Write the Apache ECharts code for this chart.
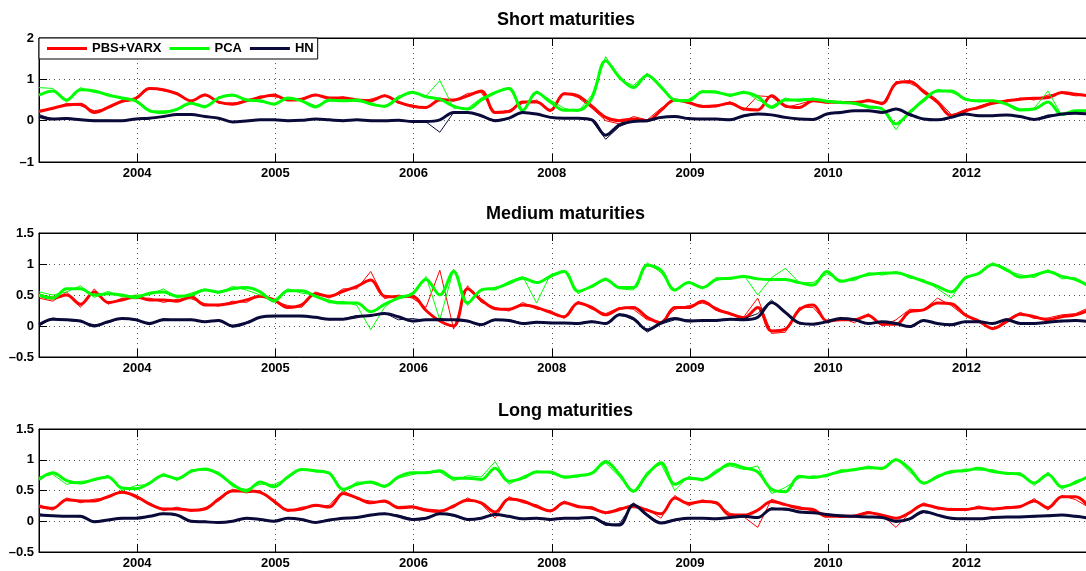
<!DOCTYPE html>
<html>
<head>
<meta charset="utf-8">
<title>Short, medium and long maturities</title>
<script src="https://cdn.jsdelivr.net/npm/echarts@6/dist/echarts.min.js"></script>
<style>
  html, body { margin: 0; padding: 0; background: #fff; }
  #chart { width: 1086px; height: 571px; }
</style>
</head>
<body>
<div id="chart"></div>
<script>
// one point every 10 observations, x axis runs on observation number
const obsStep = 10;
const obsMax = 764;
const tickObs = [71, 171, 271, 371, 471, 571, 671];
const tickLabels = ['2004', '2005', '2006', '2008', '2009', '2010', '2012'];
const seriesNames = ['PBS+VARX', 'PCA', 'HN'];

// short maturities, thick = smoothed, raw = thin line
const shortPbs = [0.22,0.3,0.38,0.4,0.2,0.32,0.47,0.54,0.78,0.75,0.65,0.48,0.62,0.45,0.4,0.48,0.56,0.62,0.5,0.52,0.62,0.55,0.55,0.5,0.48,0.6,0.45,
  0.35,0.32,0.5,0.5,0.6,0.72,0.2,0.22,0.45,0.45,0.25,0.65,0.6,0.35,0.08,0.0,0.04,0.0,0.25,0.5,0.44,0.34,0.36,0.42,0.28,0.26,0.6,
  0.36,0.32,0.48,0.45,0.44,0.44,0.48,0.42,0.9,0.95,0.7,0.45,0.12,0.24,0.32,0.42,0.48,0.52,0.54,0.56,0.68,0.64,0.6];
const shortPca = [0.62,0.72,0.5,0.75,0.72,0.62,0.55,0.48,0.24,0.2,0.28,0.42,0.34,0.55,0.62,0.5,0.48,0.4,0.55,0.48,0.33,0.5,0.48,0.5,0.4,0.35,0.55,
  0.69,0.58,0.52,0.35,0.28,0.5,0.68,0.78,0.25,0.68,0.45,0.25,0.25,0.55,1.45,1.05,0.8,1.1,0.82,0.5,0.48,0.7,0.69,0.62,0.68,0.58,0.32,
  0.5,0.5,0.52,0.47,0.44,0.42,0.34,0.28,-0.08,0.2,0.5,0.72,0.72,0.52,0.48,0.48,0.4,0.26,0.28,0.45,0.15,0.24,0.24];
const shortHn = [0.1,0.04,0.05,0.02,0.0,0.0,0.0,0.04,0.06,0.1,0.15,0.15,0.1,0.06,-0.03,-0.01,0.02,0.02,0.0,0.01,0.04,0.02,0.0,0.02,0.0,0.0,0.01,
  -0.02,-0.02,0.02,0.2,0.2,0.12,0.0,0.06,0.2,0.16,0.08,0.06,0.06,0.02,-0.35,-0.1,-0.02,0.0,0.08,0.1,0.05,0.04,0.04,0.02,0.12,0.16,0.14,
  0.08,0.04,0.03,0.16,0.2,0.24,0.24,0.2,0.28,0.15,0.04,0.02,0.08,0.16,0.12,0.12,0.14,0.1,0.03,0.1,0.16,0.18,0.16];
const shortPbsRaw = [0.25,0.28,0.42,0.36,0.24,0.3,0.45,0.5,0.8,0.72,0.68,0.45,0.65,0.42,0.43,0.46,0.6,0.58,0.52,0.5,0.64,0.52,0.58,0.47,0.52,0.62,0.42,
  0.38,0.3,0.55,0.47,0.66,0.68,0.18,0.25,0.42,0.5,0.22,0.68,0.56,0.3,0.0,-0.08,0.1,0.02,0.3,0.52,0.42,0.37,0.33,0.46,0.25,0.6,0.58,
  0.32,0.4,0.5,0.42,0.47,0.4,0.52,0.38,0.95,0.9,0.75,0.5,0.15,0.2,0.35,0.46,0.45,0.55,0.5,0.62,0.66,0.6,0.62];
const shortPcaRaw = [0.8,0.78,0.45,0.8,0.68,0.65,0.52,0.5,0.22,0.24,0.25,0.45,0.3,0.58,0.6,0.53,0.45,0.42,0.52,0.5,0.36,0.47,0.5,0.46,0.44,0.32,0.6,
  0.66,0.6,0.97,0.3,0.3,0.55,0.7,0.8,0.25,0.72,0.5,0.3,0.22,0.62,1.55,1.0,0.85,1.15,0.78,0.46,0.52,0.72,0.72,0.58,0.72,0.5,0.35,
  0.55,0.46,0.55,0.44,0.47,0.4,0.3,0.3,-0.22,0.25,0.45,0.76,0.68,0.55,0.45,0.5,0.42,0.28,0.3,0.72,0.12,0.22,0.26];
const shortHnRaw = [0.15,0.03,0.07,0.03,0.01,0.01,-0.01,0.05,0.05,0.11,0.14,0.16,0.09,0.07,-0.04,0.0,0.01,0.03,-0.01,0.02,0.03,0.03,0.01,0.01,0.01,-0.01,0.02,
  -0.02,-0.03,-0.28,0.2,0.21,0.1,0.02,0.05,0.21,0.15,0.09,0.05,0.07,0.0,-0.45,-0.14,-0.01,0.01,0.06,0.11,0.06,0.03,0.05,0.03,0.1,0.17,0.13,
  0.07,0.05,0.02,0.15,0.22,0.23,0.25,0.19,0.3,0.12,0.05,0.01,0.09,0.15,0.13,0.11,0.15,0.09,0.02,0.14,0.15,0.19,0.15];

// medium maturities
const mediumPbs = [0.5,0.45,0.5,0.35,0.55,0.38,0.42,0.47,0.42,0.42,0.4,0.47,0.34,0.34,0.37,0.42,0.48,0.42,0.3,0.34,0.52,0.48,0.56,0.64,0.74,0.48,0.47,
  0.48,0.25,0.08,0.0,0.6,0.42,0.28,0.27,0.34,0.3,0.22,0.15,0.37,0.3,0.18,0.28,0.3,0.14,0.05,0.3,0.3,0.4,0.27,0.2,0.13,0.3,-0.08,
  -0.05,0.26,0.34,0.08,0.1,0.1,0.17,0.03,0.03,0.23,0.26,0.37,0.36,0.18,0.08,-0.04,0.07,0.19,0.15,0.1,0.15,0.18,0.26];
const mediumPca = [0.5,0.45,0.6,0.6,0.5,0.52,0.5,0.46,0.53,0.55,0.48,0.5,0.58,0.55,0.6,0.62,0.55,0.4,0.57,0.57,0.48,0.4,0.37,0.37,0.23,0.35,0.45,
  0.52,0.75,0.5,0.88,0.37,0.58,0.61,0.69,0.77,0.7,0.8,0.88,0.56,0.64,0.75,0.62,0.62,0.98,0.9,0.58,0.7,0.62,0.75,0.77,0.8,0.76,0.75,
  0.75,0.7,0.66,0.88,0.72,0.77,0.83,0.85,0.86,0.8,0.72,0.64,0.55,0.77,0.85,0.99,0.91,0.79,0.82,0.88,0.8,0.75,0.64];
const mediumHn = [0.02,0.11,0.1,0.08,0.0,0.07,0.12,0.1,0.04,0.1,0.1,0.1,0.07,0.09,0.0,0.05,0.14,0.16,0.16,0.16,0.14,0.11,0.11,0.15,0.17,0.2,0.15,
  0.08,0.1,0.1,0.1,0.08,0.02,0.1,0.09,0.04,0.06,0.05,0.05,0.04,0.07,0.04,0.18,0.12,-0.06,0.05,0.12,0.08,0.09,0.09,0.11,0.1,0.14,0.38,
  0.22,0.05,0.03,0.07,0.12,0.1,0.04,0.07,0.04,-0.01,0.09,0.04,0.02,0.07,0.07,0.04,0.1,0.04,0.04,0.06,0.08,0.09,0.07];
const mediumPbsRaw = [0.45,0.4,0.55,0.3,0.6,0.35,0.45,0.44,0.45,0.38,0.43,0.44,0.36,0.32,0.4,0.38,0.5,0.4,0.33,0.3,0.55,0.45,0.6,0.6,0.88,0.44,0.5,
  0.45,0.3,0.9,-0.05,0.65,0.38,0.3,0.24,0.38,0.27,0.25,0.12,0.4,0.27,0.2,0.3,0.27,0.1,0.07,0.27,0.33,0.37,0.3,0.18,0.15,0.45,-0.12,
  -0.1,0.3,0.3,0.05,0.14,0.05,0.2,0.0,0.1,0.27,0.26,0.45,0.33,0.16,0.06,-0.06,0.1,0.22,0.12,0.13,0.18,0.2,0.3];
const mediumPcaRaw = [0.55,0.5,0.55,0.65,0.46,0.56,0.47,0.5,0.5,0.6,0.45,0.53,0.6,0.52,0.64,0.58,0.5,0.42,0.6,0.53,0.5,0.37,0.4,0.33,-0.06,0.3,0.48,
  0.5,0.8,0.1,0.92,0.33,0.6,0.58,0.72,0.8,0.37,0.83,0.9,0.52,0.66,0.78,0.6,0.58,1.02,0.86,0.56,0.72,0.6,0.78,0.75,0.82,0.5,0.78,
  0.93,0.7,0.7,0.84,0.74,0.73,0.86,0.82,0.88,0.77,0.75,0.6,0.45,0.8,0.84,1.02,0.88,0.83,0.78,0.91,0.76,0.78,0.6];
const mediumHnRaw = [0.0,0.13,0.09,0.07,0.02,0.05,0.13,0.09,0.02,0.12,0.09,0.11,0.06,0.1,-0.02,0.06,0.15,0.15,0.17,0.15,0.15,0.1,0.12,0.17,0.16,0.21,0.1,
  0.12,0.09,0.12,0.09,0.07,0.03,0.09,0.1,0.05,0.05,0.06,0.04,0.05,0.08,0.03,0.2,0.1,-0.1,0.03,0.1,0.1,0.07,0.1,0.1,0.12,0.2,0.42,
  0.2,0.03,0.04,0.06,0.13,0.09,0.05,0.06,0.03,-0.02,0.1,0.03,0.03,0.06,0.08,0.03,0.12,0.05,0.03,0.07,0.07,0.1,0.06];

// long maturities
const longPbs = [0.24,0.21,0.35,0.33,0.33,0.4,0.47,0.41,0.28,0.2,0.2,0.18,0.2,0.36,0.49,0.49,0.47,0.33,0.18,0.2,0.26,0.23,0.45,0.38,0.3,0.33,0.22,
  0.23,0.18,0.16,0.25,0.34,0.3,0.15,0.36,0.33,0.24,0.17,0.3,0.24,0.21,0.14,0.19,0.25,0.18,0.12,0.38,0.29,0.32,0.3,0.1,0.1,0.18,0.32,
  0.27,0.21,0.19,0.08,0.08,0.08,0.14,0.1,0.05,0.14,0.27,0.22,0.19,0.19,0.22,0.2,0.22,0.24,0.33,0.22,0.4,0.4,0.22];
const longPca = [0.68,0.79,0.66,0.62,0.68,0.72,0.54,0.53,0.62,0.75,0.69,0.81,0.85,0.77,0.6,0.49,0.64,0.56,0.72,0.84,0.82,0.78,0.52,0.6,0.64,0.57,0.72,
  0.79,0.79,0.82,0.7,0.7,0.68,0.86,0.65,0.7,0.8,0.8,0.72,0.74,0.78,0.97,0.76,0.49,0.76,0.95,0.6,0.7,0.68,0.8,0.93,0.87,0.8,0.52,
  0.48,0.73,0.71,0.75,0.81,0.84,0.87,0.86,1.0,0.85,0.62,0.72,0.81,0.82,0.86,0.81,0.78,0.76,0.62,0.76,0.56,0.63,0.74];
const longHn = [0.1,0.09,0.08,0.08,-0.01,0.02,0.05,0.05,0.08,0.12,0.1,0.0,-0.01,-0.02,0.0,0.05,0.03,0.0,0.05,0.03,-0.02,0.02,0.05,0.06,0.1,0.12,0.08,
  0.03,0.05,0.12,0.1,0.03,0.05,0.11,0.08,0.04,0.05,0.03,0.05,0.05,0.06,-0.04,-0.06,0.27,0.1,-0.03,0.02,0.05,0.05,0.04,0.06,0.08,0.06,0.2,
  0.2,0.15,0.14,0.11,0.09,0.08,0.07,0.06,0.0,0.04,0.16,0.1,0.05,0.04,0.04,0.06,0.07,0.07,0.08,0.09,0.1,0.08,0.05];
const longPbsRaw = [0.27,0.18,0.38,0.3,0.36,0.38,0.5,0.38,0.3,0.17,0.23,0.16,0.22,0.33,0.52,0.46,0.5,0.3,0.16,0.23,0.24,0.26,0.5,0.36,0.33,0.31,0.24,
  0.25,0.2,0.18,0.22,0.38,0.28,0.05,0.4,0.3,0.27,0.15,0.33,0.22,0.24,0.12,0.22,0.22,0.2,0.05,0.42,0.25,0.35,0.28,0.13,0.07,-0.1,0.36,
  0.27,0.24,0.16,0.12,0.06,0.1,0.16,0.1,-0.1,0.14,0.3,0.2,0.21,0.17,0.25,0.18,0.24,0.22,0.37,0.18,0.42,0.35,0.22];
const longPcaRaw = [0.72,0.76,0.6,0.65,0.66,0.75,0.5,0.58,0.6,0.78,0.66,0.84,0.83,0.8,0.56,0.52,0.6,0.6,0.7,0.86,0.8,0.8,0.48,0.64,0.62,0.55,0.7,
  0.76,0.8,0.8,0.66,0.74,0.72,0.97,0.6,0.73,0.82,0.78,0.7,0.72,0.8,0.95,0.72,0.46,0.8,0.93,0.5,0.73,0.65,0.84,0.9,0.84,0.9,0.45,
  0.55,0.7,0.74,0.72,0.84,0.82,0.9,0.84,1.02,0.8,0.6,0.75,0.78,0.85,0.83,0.84,0.76,0.79,0.58,0.8,0.52,0.66,0.72];
const longHnRaw = [0.12,0.08,0.09,0.07,0.0,0.03,0.04,0.06,0.07,0.13,0.09,-0.01,0.0,-0.03,0.01,0.04,0.04,-0.01,0.06,0.02,-0.01,0.03,0.04,0.07,0.09,0.13,0.1,
  0.04,0.06,0.13,0.08,0.02,0.06,0.12,0.07,0.03,0.06,0.02,0.06,0.04,0.07,-0.07,-0.04,0.3,0.08,-0.02,0.03,0.04,0.06,0.03,0.07,0.07,0.05,0.22,
  0.18,0.16,0.13,0.12,0.08,0.09,0.06,0.07,-0.02,0.05,0.14,0.11,0.04,0.05,0.03,0.07,0.06,0.08,0.07,0.1,0.11,0.07,0.06];

const panels = [
  { title: 'Short maturities', lines: [shortPbs, shortPca, shortHn], raw: [shortPbsRaw, shortPcaRaw, shortHnRaw], yMin: -1, yMax: 2, yStep: 1 },
  { title: 'Medium maturities', lines: [mediumPbs, mediumPca, mediumHn], raw: [mediumPbsRaw, mediumPcaRaw, mediumHnRaw], yMin: -0.5, yMax: 1.5, yStep: 0.5 },
  { title: 'Long maturities', lines: [longPbs, longPca, longHn], raw: [longPbsRaw, longPcaRaw, longHnRaw], yMin: -0.5, yMax: 1.5, yStep: 0.5 }
];

// layout of the three stacked panels
const boxes = [
  { top: 38, height: 124, titleTop: 11, titleLeft: 497 },
  { top: 233, height: 124, titleTop: 205, titleLeft: 486 },
  { top: 429, height: 123, titleTop: 402, titleLeft: 498 }
];
const colors = ['#ff0000', '#00ff00', '#0b0b3b'];
const font = '"Liberation Sans", Arial, Helvetica, sans-serif';
const dotted = { type: [1, 4], color: '#555', width: 1 };
const black = { color: '#000', width: 1 };

const toPoints = arr => arr.map((v, i) => [i * obsStep, v]);
const tickText = v => tickLabels[tickObs.indexOf(v)] || '';
const yText = v => (v < 0 ? '\u2013' + Math.abs(v) : String(v));

const grid = [], xAxis = [], yAxis = [], title = [], series = [];

panels.forEach((p, k) => {
  const b = boxes[k];
  grid.push({
    left: 39, right: -9, top: b.top, height: b.height,
    show: true, borderColor: '#000', borderWidth: 1, backgroundColor: '#fff',
    outerBoundsMode: 'none'
  });
  title.push({
    text: p.title, left: b.titleLeft, top: b.titleTop, padding: 0,
    textStyle: { fontFamily: font, fontSize: 18, fontWeight: 'bold', color: '#000' }
  });
  xAxis.push({
    gridIndex: k, type: 'value', min: 0, max: obsMax, position: 'bottom',
    axisLine: { show: true, onZero: false, lineStyle: black },
    axisTick: { show: true, inside: true, length: 8, customValues: tickObs, lineStyle: black },
    axisLabel: {
      customValues: tickObs, formatter: tickText, margin: 5,
      fontFamily: font, fontSize: 13, fontWeight: 'bold', color: '#000'
    },
    splitLine: { show: true, lineStyle: dotted }
  });
  xAxis.push({
    gridIndex: k, type: 'value', min: 0, max: obsMax, position: 'top',
    axisLine: { show: true, onZero: false, lineStyle: black },
    axisTick: { show: true, inside: true, length: 8, customValues: tickObs, lineStyle: black },
    axisLabel: { show: false },
    splitLine: { show: false }
  });
  yAxis.push({
    gridIndex: k, type: 'value', min: p.yMin, max: p.yMax, interval: p.yStep,
    axisLine: { show: true, onZero: false, lineStyle: black },
    axisTick: { show: true, inside: true, length: 8, lineStyle: black },
    axisLabel: {
      formatter: yText, margin: 5,
      fontFamily: font, fontSize: 13, fontWeight: 'bold', color: '#000'
    },
    splitLine: { show: true, lineStyle: dotted }
  });

  seriesNames.forEach((name, j) => {
    series.push({
      name: name, type: 'line', xAxisIndex: 2 * k, yAxisIndex: k,
      data: toPoints(p.lines[j]), symbol: 'none', smooth: 0.35,
      lineStyle: { color: colors[j], width: 3 }, itemStyle: { color: colors[j] },
      silent: true
    });
    series.push({
      name: name + ' raw', type: 'line', xAxisIndex: 2 * k, yAxisIndex: k,
      data: toPoints(p.raw[j]), symbol: 'none',
      lineStyle: { color: colors[j], width: 1 }, itemStyle: { color: colors[j] },
      silent: true
    });
  });
});

const chart = echarts.init(document.getElementById('chart'), null, { renderer: 'canvas' });
chart.setOption({
  animation: false,
  backgroundColor: '#fff',
  title: title,
  legend: {
    data: seriesNames, left: 39, top: 38, orient: 'horizontal',
    icon: 'rect', itemWidth: 40, itemHeight: 3, itemGap: 8,
    padding: [4, 4, 4, 8], backgroundColor: '#fff', borderColor: '#000', borderWidth: 1,
    textStyle: { fontFamily: font, fontSize: 13, fontWeight: 'bold', color: '#000' },
    selectedMode: false
  },
  grid: grid,
  xAxis: xAxis,
  yAxis: yAxis,
  series: series
});
</script>
</body>
</html>
